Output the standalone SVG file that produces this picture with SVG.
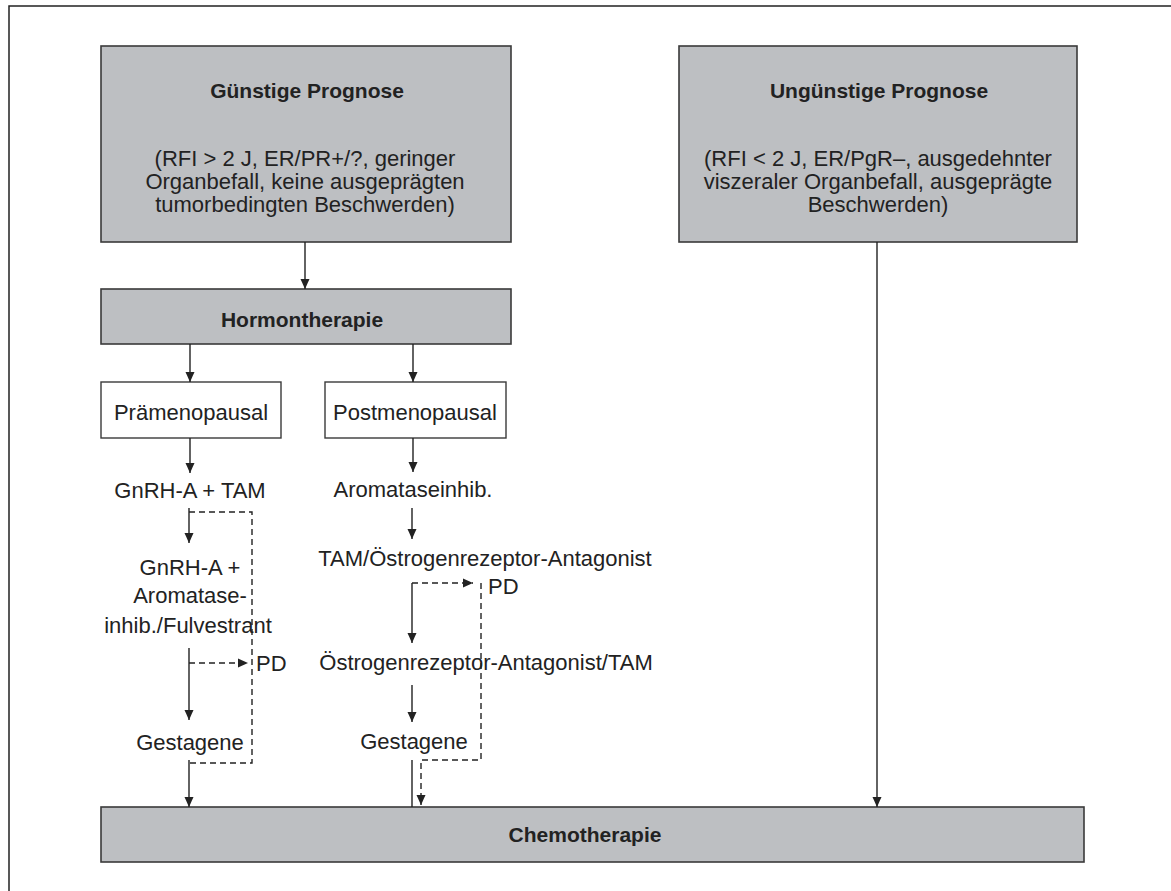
<svg xmlns="http://www.w3.org/2000/svg" width="1171" height="891" viewBox="0 0 1171 891">
<defs>
<marker id="ah" viewBox="0 0 10 10" refX="10" refY="5" markerWidth="10" markerHeight="10" markerUnits="userSpaceOnUse" orient="auto">
<path d="M0,0.5 L10,5 L0,9.5 Z" fill="#222"/>
</marker>
<style>
.gray{fill:#bdbfc2;stroke:#3a3a3a;stroke-width:1.6}
.white{fill:#fff;stroke:#3a3a3a;stroke-width:1.4}
.t{font-family:"Liberation Sans",Arial,sans-serif;font-size:22px;fill:#222;text-anchor:middle}
.tl{font-family:"Liberation Sans",Arial,sans-serif;font-size:22px;fill:#222}
.b{font-family:"Liberation Sans",Arial,sans-serif;font-size:21px;font-weight:bold;fill:#222;text-anchor:middle}
.s{fill:none;stroke:#222;stroke-width:1.4}
.a{fill:none;stroke:#222;stroke-width:1.4;marker-end:url(#ah)}
.d{fill:none;stroke:#222;stroke-width:1.4;stroke-dasharray:6 4}
.da{fill:none;stroke:#222;stroke-width:1.4;stroke-dasharray:6 4;marker-end:url(#ah)}
</style>
</defs>
<rect x="0" y="0" width="1171" height="891" fill="#fff"/>
<rect x="9" y="6" width="1200" height="920" fill="none" stroke="#222" stroke-width="1.5"/>

<g id="guenstig">
<rect class="gray" x="101" y="46" width="410" height="196"/>
<text class="b" x="307" y="98">Günstige Prognose</text>
<text class="t" x="305" y="166">(RFI &gt; 2 J, ER/PR+/?, geringer</text>
<text class="t" x="305" y="189">Organbefall, keine ausgeprägten</text>
<text class="t" x="305" y="212">tumorbedingten Beschwerden)</text>
</g>

<g id="unguenstig">
<rect class="gray" x="679" y="46" width="398" height="196"/>
<text class="b" x="879" y="98">Ungünstige Prognose</text>
<text class="t" x="878" y="166">(RFI &lt; 2 J, ER/PgR–, ausgedehnter</text>
<text class="t" x="878" y="189">viszeraler Organbefall, ausgeprägte</text>
<text class="t" x="878" y="212">Beschwerden)</text>
</g>

<g id="hormon">
<rect class="gray" x="101" y="289" width="410" height="55"/>
<text class="b" x="302" y="327">Hormontherapie</text>
</g>

<g id="praemeno">
<rect class="white" x="101" y="382" width="180" height="56"/>
<text class="t" x="191" y="420">Prämenopausal</text>
</g>

<g id="postmeno">
<rect class="white" x="325" y="382" width="181" height="56"/>
<text class="t" x="415" y="420">Postmenopausal</text>
</g>

<g id="chemo">
<rect class="gray" x="101" y="807" width="983" height="55"/>
<text class="b" x="585" y="842">Chemotherapie</text>
</g>

<g id="pre-steps">
<text class="t" x="190" y="498">GnRH-A + TAM</text>
<text class="t" x="190" y="575">GnRH-A +</text>
<text class="t" x="190" y="603">Aromatase-</text>
<text class="t" x="188" y="633">inhib./Fulvestrant</text>
<text class="tl" x="256" y="671">PD</text>
<text class="t" x="190" y="750">Gestagene</text>
</g>

<g id="post-steps">
<text class="t" x="413" y="497">Aromataseinhib.</text>
<text class="t" x="485" y="566">TAM/Östrogenrezeptor-Antagonist</text>
<text class="tl" x="488" y="594">PD</text>
<text class="t" x="486" y="670">Östrogenrezeptor-Antagonist/TAM</text>
<text class="t" x="414" y="749">Gestagene</text>
</g>

<g id="connectors">
<line class="a" x1="305" y1="242" x2="305" y2="289"/>
<line class="a" x1="877" y1="242" x2="877" y2="807"/>
<line class="a" x1="190" y1="344" x2="190" y2="382"/>
<line class="a" x1="413" y1="344" x2="413" y2="382"/>
<line class="a" x1="190" y1="438" x2="190" y2="473"/>
<line class="a" x1="413" y1="438" x2="413" y2="472"/>
<line class="a" x1="189" y1="508" x2="189" y2="543"/>
<line class="a" x1="189" y1="648" x2="189" y2="720"/>
<line class="a" x1="189" y1="760" x2="189" y2="807"/>
<polyline class="d" points="189,512 252,512 252,763 189,763"/>
<line class="da" x1="189" y1="663" x2="248" y2="663"/>
<line class="a" x1="412" y1="508" x2="412" y2="539"/>
<line class="a" x1="412" y1="583" x2="412" y2="643"/>
<line class="a" x1="412" y1="685" x2="412" y2="722"/>
<line class="s" x1="412" y1="760" x2="412" y2="807"/>
<line class="da" x1="412" y1="583" x2="473" y2="583"/>
<polyline class="da" points="481,583 481,760 421,760 421,805"/>
</g>
</svg>
